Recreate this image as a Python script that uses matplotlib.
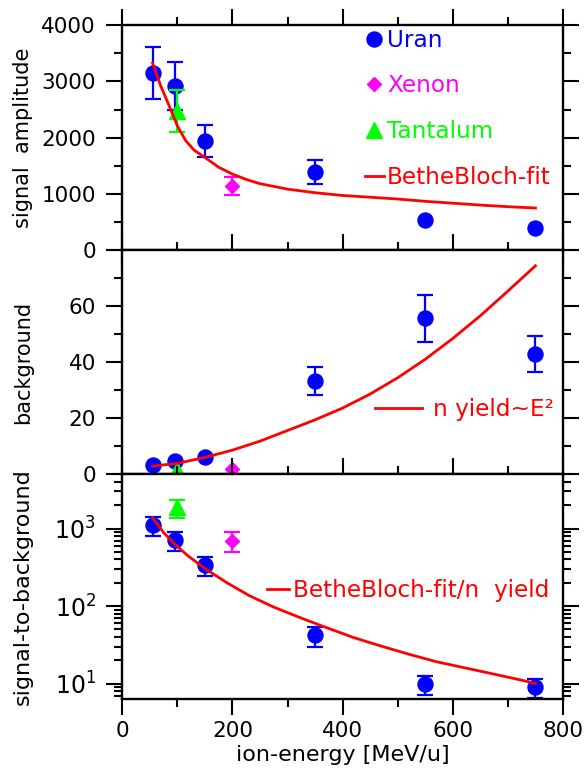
import numpy as np
import matplotlib
matplotlib.use('Agg')
import matplotlib.pyplot as plt
from matplotlib.lines import Line2D
from matplotlib.ticker import MultipleLocator, LogLocator, NullFormatter

plt.rcParams['font.family'] = ['DejaVu Sans']
plt.rcParams['mathtext.fontset'] = 'dejavusans'

# energies [MeV/u]
uran_e = [55, 96, 150, 350, 550, 750]
xenon_e = [200]
tantal_e = [100]

# signal amplitude
amp_uran = [3150, 2920, 1940, 1385, 540, 385]
amp_uran_err = [470, 430, 290, 210, 0, 0]
amp_xenon = [1140]
amp_xenon_err = [165]
amp_tantal = [2470]
amp_tantal_err = [370]

# background
bg_uran = [3.3, 4.6, 6.3, 33.2, 55.6, 43.0]
bg_uran_err = [0, 0, 0, 5.0, 8.4, 6.4]
bg_xenon = [2.0]
bg_tantal = [1.5]

# signal-to-background
sb_uran = [1115, 714, 340, 42, 10, 9.1]
sb_uran_lo = [803, 515, 245, 29.7, 7.1, 6.6]
sb_uran_hi = [1413, 914, 431, 54, 12.6, 11.6]
sb_xenon = [700]
sb_xenon_lo = [505]
sb_xenon_hi = [914]
sb_tantal = [1906]
sb_tantal_lo = [1350]
sb_tantal_hi = [2344]

# curves
fit_e = [55, 70, 85, 100, 115, 130, 150, 175, 200, 225, 250, 300, 350, 400, 450, 500, 550, 600, 650, 700, 750]
fit_amp = [3330, 2915, 2570, 2208, 1947, 1779, 1646, 1471, 1349, 1254, 1178, 1081, 1017, 968, 937, 905, 864, 831, 797, 768, 745]

yield_e = [55, 100, 150, 200, 250, 300, 350, 400, 450, 500, 550, 600, 650, 700, 750]
yield_bg = [2.9, 3.9, 6.0, 8.6, 11.8, 15.6, 19.4, 23.6, 28.6, 34.4, 41.0, 48.4, 56.5, 65.3, 74.3]

ratio_e = [55, 75, 95, 120, 150, 190, 230, 275, 325, 370, 420, 470, 520, 570, 620, 670, 720, 750]
ratio_sb = [1370, 887, 630, 440, 305, 200, 137, 97, 70, 53, 39.3, 30.5, 24, 19.2, 16.1, 13.5, 11.3, 10.1]

BLUE = '#0000ff'
MAG = '#ff00ff'
GREEN = '#00ff00'
RED = '#ff0000'

ebkw = dict(fmt='none', elinewidth=1.6, capsize=6, capthick=1.6)
mkw_u = dict(marker='o', ms=10.8, ls='none', color=BLUE)
mkw_x = dict(marker='D', ms=6.8, ls='none', color=MAG)
mkw_t = dict(marker='^', ms=11, ls='none', color=GREEN)
LEGSIZE = 16.7

fig = plt.figure(figsize=(5.85, 7.68), dpi=100)
gs = fig.add_gridspec(3, 1, left=0.209, right=0.9624, top=0.967, bottom=0.0902, hspace=0)
ax1 = fig.add_subplot(gs[0])
ax2 = fig.add_subplot(gs[1])
ax3 = fig.add_subplot(gs[2])


def style(ax):
    ax.set_xlim(0, 800)
    ax.xaxis.set_major_locator(MultipleLocator(200))
    ax.xaxis.set_minor_locator(MultipleLocator(100))
    ax.tick_params(which='both', direction='out', top=True, right=True, width=1.5, labelsize=15.5)
    ax.tick_params(which='major', length=11.5)
    ax.tick_params(which='minor', length=5.8)
    ax.tick_params(axis='x', pad=4.5)
    ax.tick_params(axis='y', pad=7.5)
    for s in ax.spines.values():
        s.set_linewidth(1.7)
    ax.yaxis.set_label_coords(-0.203, 0.5)


def mask(vals, errs):
    return [i for i in range(len(vals)) if errs[i] > 0]


# --- top: signal amplitude
style(ax1)
idx = mask(amp_uran, amp_uran_err)
ax1.errorbar([uran_e[i] for i in idx], [amp_uran[i] for i in idx],
             yerr=[amp_uran_err[i] for i in idx], ecolor=BLUE, **ebkw)
ax1.plot(uran_e, amp_uran, **mkw_u)
ax1.errorbar(xenon_e, amp_xenon, yerr=amp_xenon_err, ecolor=MAG, **ebkw)
ax1.plot(xenon_e, amp_xenon, **mkw_x)
ax1.errorbar(tantal_e, amp_tantal, yerr=amp_tantal_err, ecolor=GREEN, **ebkw)
ax1.plot(tantal_e, amp_tantal, **mkw_t)
ax1.plot(fit_e, fit_amp, color=RED, lw=2)
ax1.set_ylim(0, 4000)
ax1.yaxis.set_major_locator(MultipleLocator(1000))
ax1.yaxis.set_minor_locator(MultipleLocator(500))
ax1.tick_params(labelbottom=False)
ax1.set_ylabel('signal  amplitude', fontsize=15, va='bottom')

h1 = [Line2D([], [], **mkw_u), Line2D([], [], **mkw_x), Line2D([], [], **mkw_t),
      Line2D([], [], color=RED, lw=2)]
ax1.legend(h1, ['Uran', 'Xenon', 'Tantalum', 'BetheBloch-fit'], loc='upper left',
           bbox_to_anchor=(0.551, 0.985), frameon=False, borderpad=0, borderaxespad=0,
           handlelength=0.8, handletextpad=0.15, labelspacing=0.98,
           fontsize=LEGSIZE, labelcolor='linecolor')

# --- middle: background
style(ax2)
idx = mask(bg_uran, bg_uran_err)
ax2.errorbar([uran_e[i] for i in idx], [bg_uran[i] for i in idx],
             yerr=[bg_uran_err[i] for i in idx], ecolor=BLUE, **ebkw)
ax2.plot(uran_e, bg_uran, **mkw_u)
ax2.plot(xenon_e, bg_xenon, **mkw_x)
ax2.plot(tantal_e, bg_tantal, **mkw_t)
ax2.plot(yield_e, yield_bg, color=RED, lw=2)
ax2.set_ylim(0, 80)
ax2.set_yticks([0, 20, 40, 60, 80])
ax2.set_yticklabels(['0', '20', '40', '60', ''])
ax2.yaxis.set_minor_locator(MultipleLocator(10))
ax2.tick_params(labelbottom=False)
ax2.set_ylabel('background', fontsize=15, va='bottom')
ax2.legend([Line2D([], [], color=RED, lw=2)], ['n yield~E²'], loc='center left',
           bbox_to_anchor=(0.573, 0.29), frameon=False, borderpad=0, borderaxespad=0,
           handlelength=2.05, handletextpad=0.45, fontsize=LEGSIZE, labelcolor='linecolor')

# --- bottom: signal-to-background
style(ax3)
ax3.set_yscale('log')
u_err = [np.subtract(sb_uran, sb_uran_lo), np.subtract(sb_uran_hi, sb_uran)]
ax3.errorbar(uran_e, sb_uran, yerr=u_err, ecolor=BLUE, **ebkw)
ax3.plot(uran_e, sb_uran, **mkw_u)
x_err = [np.subtract(sb_xenon, sb_xenon_lo), np.subtract(sb_xenon_hi, sb_xenon)]
ax3.errorbar(xenon_e, sb_xenon, yerr=x_err, ecolor=MAG, **ebkw)
ax3.plot(xenon_e, sb_xenon, **mkw_x)
t_err = [np.subtract(sb_tantal, sb_tantal_lo), np.subtract(sb_tantal_hi, sb_tantal)]
ax3.errorbar(tantal_e, sb_tantal, yerr=t_err, ecolor=GREEN, **ebkw)
ax3.plot(tantal_e, sb_tantal, **mkw_t)
ax3.plot(ratio_e, ratio_sb, color=RED, lw=2)
ax3.set_ylim(6.4, 5000)
ax3.yaxis.set_major_locator(LogLocator(base=10, numticks=10))
ax3.yaxis.set_minor_locator(LogLocator(base=10, subs=np.arange(2, 10), numticks=20))
ax3.yaxis.set_minor_formatter(NullFormatter())
ax3.tick_params(axis='y', labelsize=17)
ax3.set_ylabel('signal-to-background', fontsize=16, va='bottom')
ax3.set_xlabel('ion-energy [MeV/u]', fontsize=16, va='top')
ax3.xaxis.set_label_coords(0.5, -0.208)
ax3.legend([Line2D([], [], color=RED, lw=2)], ['BetheBloch-fit/n  yield'], loc='center left',
           bbox_to_anchor=(0.329, 0.482), frameon=False, borderpad=0, borderaxespad=0,
           handlelength=0.95, handletextpad=0.18, fontsize=LEGSIZE, labelcolor='linecolor')

fig.savefig('out.png', dpi=100)
